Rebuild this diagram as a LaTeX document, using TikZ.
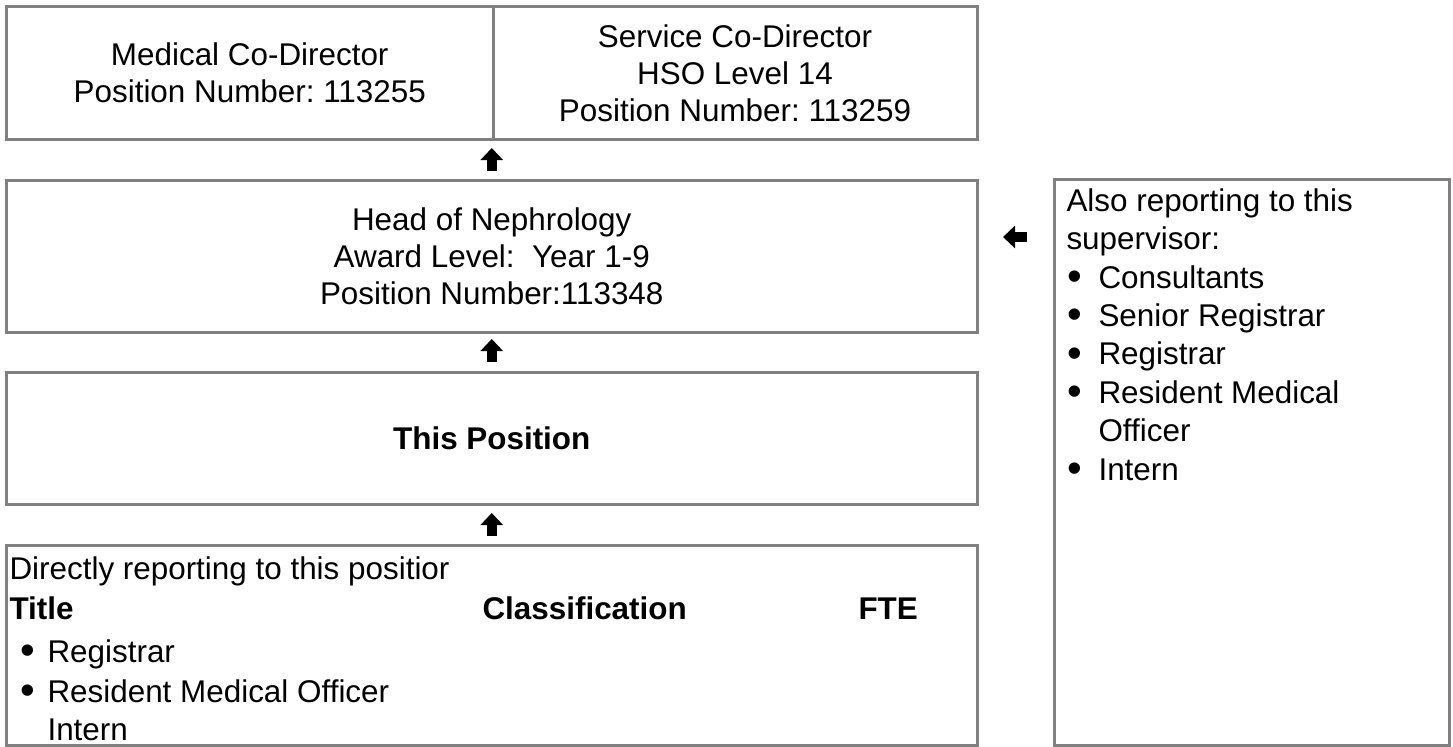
\documentclass[tikz,border=0pt]{standalone}
\usepackage{fontspec}
\setmainfont{Liberation Sans}
\usetikzlibrary{arrows.meta}

\definecolor{boxgray}{RGB}{128,128,128}
\newlength{\unitpx}
\setlength{\unitpx}{0.382pt}
\newcommand{\boxfont}{\fontsize{12}{14.1}\selectfont\frenchspacing}
\newcommand{\listdot}{\raisebox{-0.9pt}{\fontsize{16}{16}\selectfont\textbullet}}

\tikzset{
  posbox/.style={rectangle, draw=boxgray, line width=3\unitpx, inner sep=0pt, align=center, font=\boxfont},
  listline/.style={anchor=base west, inner sep=0pt, font=\boxfont},
  blockarrow/.style={line width=10\unitpx, -{Triangle[width=8.4pt,length=4.6pt]}}
}

\begin{document}
\begin{tikzpicture}[x=\unitpx, y=-\unitpx]
        \useasboundingbox (0,0) rectangle (1453,747);

        \node[posbox, minimum width=486.5\unitpx, minimum height=133\unitpx] (meddir) at(249.75,73){Medical Co-Director\\Position Number: 113255};
        \node[posbox, minimum width=484\unitpx, minimum height=133\unitpx] (servdir) at(735,73){Service Co-Director\\HSO Level 14\\Position Number: 113259};

        \node[posbox, minimum width=970.5\unitpx, minimum height=151\unitpx] (head) at(491.75,256.5){Head of Nephrology\\Award Level:\ \ Year 1-9\\Position Number:113348};
        \draw[blockarrow, shorten <=8.5\unitpx, shorten >=7\unitpx] (head.north) -- (head.north |- meddir.south);

        \node[posbox, minimum width=970.5\unitpx, minimum height=132\unitpx] (thispos) at(491.75,438.5){\bfseries This Position};
        \draw[blockarrow, shorten <=9\unitpx, shorten >=5.5\unitpx] (thispos.north) -- (head.south);

        \node[posbox, minimum width=970.5\unitpx, minimum height=200.5\unitpx] (direct) at(491.75,645.25){};
        \draw[blockarrow, shorten <=7.5\unitpx, shorten >=7\unitpx] (direct.north) -- (thispos.south);

        \node[listline] (direct-head) at(9,579){Directly reporting to this positior};
        \node[listline, font=\boxfont\bfseries] (direct-title) at(9,619){Title};
        \node[listline, font=\boxfont\bfseries] (direct-class) at(482,619){Classification};
        \node[listline, font=\boxfont\bfseries] (direct-fte) at(858,619){FTE};
        \node[listline] (direct-b1) at(20,662){\listdot};
        \node[listline] (direct-reg) at(47,662){Registrar};
        \node[listline] (direct-b2) at(20,702){\listdot};
        \node[listline] (direct-rmo) at(47,702){Resident Medical Officer};
        \node[listline] (direct-int) at(47,740){Intern};

        \node[posbox, minimum width=395\unitpx, minimum height=565.5\unitpx] (also) at(1251.5,462.75){};
        \path (also.west) ++(0,-225.75) coordinate (alsoport);
        \draw[blockarrow, shorten <=25.5\unitpx, shorten >=24.5\unitpx] (alsoport) -- (alsoport -| head.east);

        \node[listline] (also-head) at(1066,212){Also reporting to this};
        \node[listline] (also-sup) at(1066,250){supervisor:};
        \node[listline] (also-b1) at(1067,288.5){\listdot};
        \node[listline] (also-cons) at(1098,288.5){Consultants};
        \node[listline] (also-b2) at(1067,326.5){\listdot};
        \node[listline] (also-sreg) at(1098,326.5){Senior Registrar};
        \node[listline] (also-b3) at(1067,365){\listdot};
        \node[listline] (also-reg) at(1098,365){Registrar};
        \node[listline] (also-b4) at(1067,403){\listdot};
        \node[listline] (also-rmo) at(1098,403){Resident Medical};
        \node[listline] (also-off) at(1098,441.5){Officer};
        \node[listline] (also-b5) at(1067,480){\listdot};
        \node[listline] (also-int) at(1098,480){Intern};

      \end{tikzpicture}
\end{document}
